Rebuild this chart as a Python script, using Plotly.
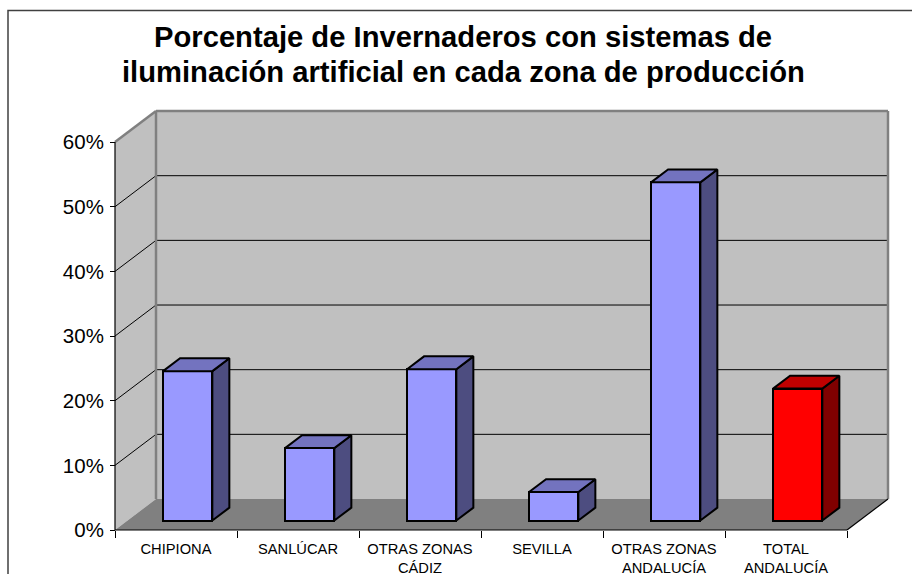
import plotly.graph_objects as go

# ---------------- data ----------------
categories = ["CHIPIONA", "SANLÚCAR", "OTRAS ZONAS<br>CÁDIZ", "SEVILLA",
              "OTRAS ZONAS<br>ANDALUCÍA", "TOTAL<br>ANDALUCÍA"]
values = [23.1, 11.2, 23.4, 4.4, 52.3, 20.4]          # percent
y_ticks = [0, 10, 20, 30, 40, 50, 60]
y_tick_labels = ["0%", "10%", "20%", "30%", "40%", "50%", "60%"]
title_lines = ["Porcentaje de Invernaderos con sistemas de",
               "iluminación artificial en cada zona de producción"]

# ---------------- styles ----------------
front_colors = ["#9999FF"] * 5 + ["#FF0000"]
side_colors = ["#4D4D80"] * 5 + ["#800000"]
top_colors = ["#7373BF"] * 5 + ["#C00000"]
WALL = "#C0C0C0"
FLOOR = "#808080"
EDGE = "#808080"
FONT = "Liberation Sans, Arial, sans-serif"

# ---------------- geometry ----------------
W, H = 912, 574
PX_CAT, PX_PCT = 122.0, 6.466       # pixels per category / per percent
X0, Y0 = 115, 530                   # pixel position of (0, 0%)
ML, MR, MT, MB = 110, 20, 106, 40
PW, PH = W - ML - MR, H - MT - MB
DX = 41 / PX_CAT                    # depth offset (category units)
DY = 31 / PX_PCT                    # depth offset (percent units)
A, D = 0.306, 0.415                 # bar front depth, bar depth
OFF, BW = 0.291, 0.404              # bar offset in category, bar width
n = len(categories)
YMAX = y_ticks[-1]

xr = [-(X0 - ML) / PX_CAT, (W - MR - X0) / PX_CAT]
yr = [-(H - MB - Y0) / PX_PCT, (Y0 - MT) / PX_PCT]

fig = go.Figure()

# front faces
xc = [i + OFF + BW / 2 + A * DX for i in range(n)]
fig.add_trace(go.Bar(
    x=xc, y=values, base=[A * DY] * n, width=BW,
    marker=dict(color=front_colors, line=dict(color="black", width=2)),
    hoverinfo="skip", showlegend=False))

# side and top faces
for i, v in enumerate(values):
    xl = i + OFF + A * DX
    xrt = xl + BW
    b = A * DY
    t = b + v
    ox, oy = D * DX, D * DY
    fig.add_trace(go.Scatter(
        x=[xrt, xrt + ox, xrt + ox, xrt, xrt],
        y=[b, b + oy, t + oy, t, b],
        mode="lines", fill="toself", fillcolor=side_colors[i],
        line=dict(color="black", width=2), xaxis="x2",
        hoverinfo="skip", showlegend=False))
    fig.add_trace(go.Scatter(
        x=[xl, xrt, xrt + ox, xl + ox, xl],
        y=[t, t, t + oy, t + oy, t],
        mode="lines", fill="toself", fillcolor=top_colors[i],
        line=dict(color="black", width=2), xaxis="x2",
        hoverinfo="skip", showlegend=False))

shapes = []
# left wall
shapes.append(dict(type="path", xref="x", yref="y", layer="below",
                   path=f"M 0 0 L 0 {YMAX} L {DX} {YMAX + DY} L {DX} {DY} Z",
                   fillcolor=WALL, line=dict(width=0)))
# back wall
shapes.append(dict(type="rect", xref="x", yref="y", layer="below",
                   x0=DX, x1=n + DX, y0=DY, y1=YMAX + DY,
                   fillcolor=WALL, line=dict(width=0)))
# floor
shapes.append(dict(type="path", xref="x", yref="y", layer="below",
                   path=f"M 0 0 L {n} 0 L {n + DX} {DY} L {DX} {DY} Z",
                   fillcolor=FLOOR, line=dict(width=0)))
# gridlines
for v in y_ticks[1:-1]:
    shapes.append(dict(type="line", xref="x", yref="y", layer="below",
                       x0=DX, x1=n + DX, y0=v + DY, y1=v + DY,
                       line=dict(color="black", width=1)))
    shapes.append(dict(type="line", xref="x", yref="y", layer="below",
                       x0=0, x1=DX, y0=v, y1=v + DY,
                       line=dict(color="black", width=1)))
# wall edges
for (x0, y0, x1, y1) in [(0, YMAX, DX, YMAX + DY), (DX, DY, DX, YMAX + DY),
                         (DX, YMAX + DY, n + DX, YMAX + DY),
                         (n + DX, DY, n + DX, YMAX + DY)]:
    shapes.append(dict(type="line", xref="x", yref="y", layer="below",
                       x0=x0, x1=x1, y0=y0, y1=y1,
                       line=dict(color=EDGE, width=2.5)))
# floor right edge, axes lines
for (x0, y0, x1, y1) in [(n, 0, n + DX, DY), (0, 0, 0, YMAX), (0, 0, n, 0)]:
    shapes.append(dict(type="line", xref="x", yref="y", layer="below",
                       x0=x0, x1=x1, y0=y0, y1=y1,
                       line=dict(color="black", width=1.2)))
# outer chart border
shapes.append(dict(type="rect", xref="paper", yref="paper",
                   x0=(8 - ML) / PW, x1=(W + 10 - ML) / PW,
                   y0=(H - MB - (H + 10)) / PH, y1=(H - MB - 10.5) / PH,
                   line=dict(color="#404040", width=1.5),
                   fillcolor="rgba(0,0,0,0)"))

# title as two centred lines
TITLE_SIZE = 29.2
baselines = [46.7, 81.7]
annotations = []
for line, bl in zip(title_lines, baselines):
    cy = bl - 0.33 * TITLE_SIZE
    annotations.append(dict(
        text=f"<b>{line}</b>", xref="paper", yref="paper",
        x=(463 - ML) / PW, y=(H - MB - cy) / PH,
        xanchor="center", yanchor="middle", showarrow=False,
        font=dict(family=FONT, size=TITLE_SIZE, color="black")))

pos_x = (H - MB - Y0) / PH
fig.update_layout(
    width=W, height=H, autosize=False,
    margin=dict(l=ML, r=MR, t=MT, b=MB, pad=0, autoexpand=False),
    paper_bgcolor="white", plot_bgcolor="white",
    shapes=shapes, annotations=annotations, bargap=0,
    xaxis=dict(range=xr, tickvals=[i + 0.5 for i in range(n)], ticktext=categories,
               ticks="", showgrid=False, zeroline=False, showline=False,
               anchor="free", position=pos_x, ticklabelstandoff=8,
               automargin=False,
               tickfont=dict(family=FONT, size=14.7, color="black")),
    xaxis2=dict(range=xr, overlaying="x", tickvals=list(range(n + 1)),
                ticks="outside", ticklen=7, tickcolor="black", tickwidth=1,
                showticklabels=False, showgrid=False, zeroline=False,
                showline=False, anchor="free", position=pos_x, side="bottom",
                automargin=False),
    yaxis=dict(range=yr, tickvals=y_ticks, ticktext=y_tick_labels,
               ticks="outside", ticklen=5, tickcolor="black", tickwidth=1,
               showgrid=False, zeroline=False, showline=False,
               anchor="free", position=(X0 - ML) / PW, ticklabelstandoff=2,
               automargin=False,
               tickfont=dict(family=FONT, size=20.5, color="black")),
)

fig.write_html("out.html", config={"displayModeBar": False},
               post_script="document.body.style.margin='0';")
